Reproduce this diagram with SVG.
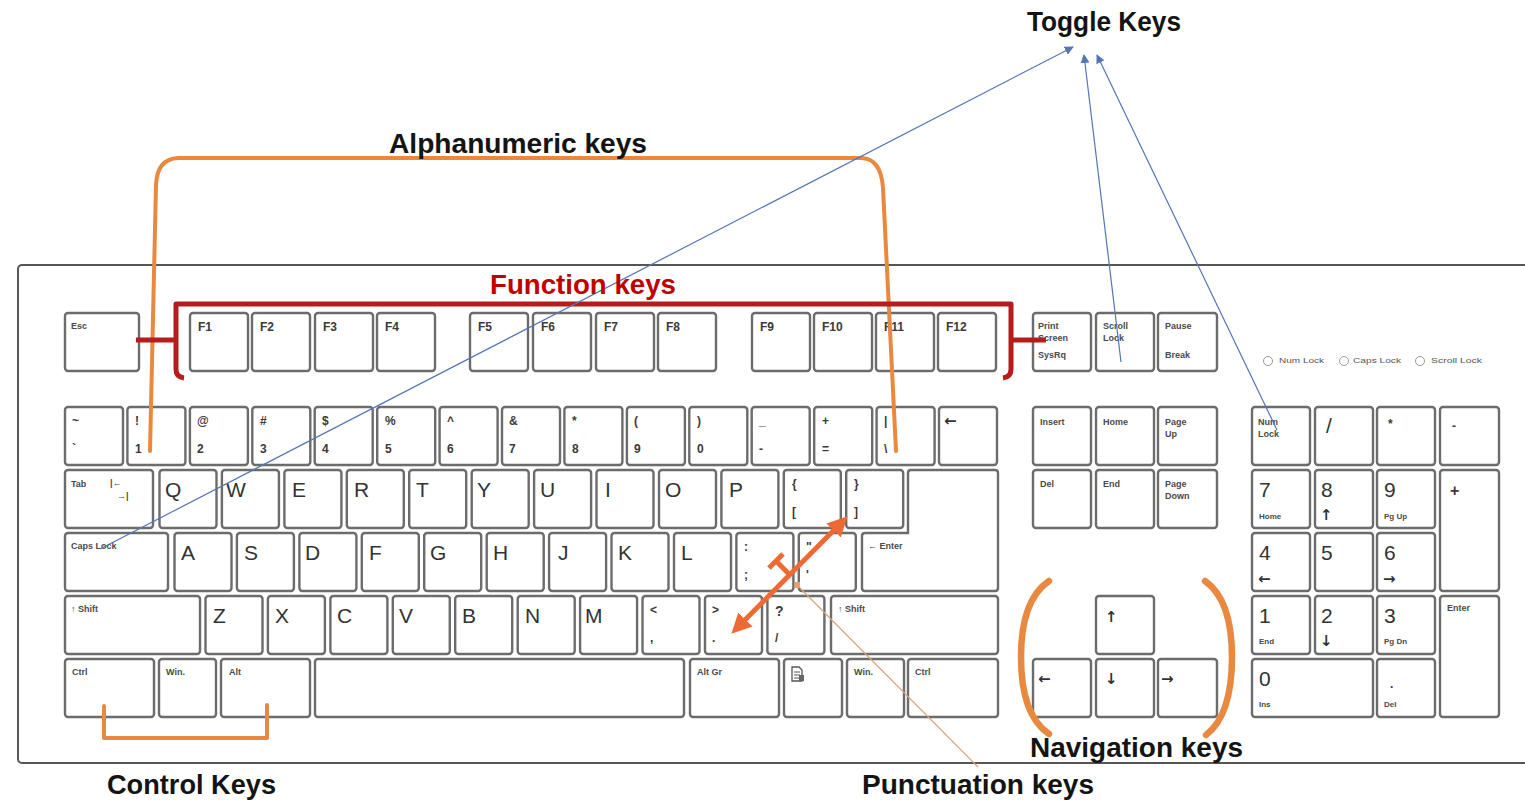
<svg xmlns="http://www.w3.org/2000/svg" width="1525" height="800" viewBox="0 0 1525 800">
<defs>
<style>
.k{fill:#fff;stroke:#6c6c6c;stroke-width:2.4}
.s{font-family:"Liberation Sans",Arial,sans-serif;font-size:9px;font-weight:bold;fill:#4a4a4a}
.m{font-family:"Liberation Sans",Arial,sans-serif;font-size:12px;font-weight:bold;fill:#3a3a3a}
.ar{font-family:"DejaVu Sans",sans-serif;font-size:15px;font-weight:bold;fill:#333}
.L{font-family:"Liberation Sans",Arial,sans-serif;font-size:21px;fill:#333}
.t{font-family:"Liberation Sans",Arial,sans-serif;font-size:27px;font-weight:bold;fill:#141414}
.ind{font-family:"Liberation Sans",Arial,sans-serif;font-size:7px;fill:#555}
.or{fill:none;stroke:#E8893F;stroke-width:4;stroke-linecap:round;stroke-linejoin:round}
.blue{fill:none;stroke:#5575B5;stroke-width:1.2}
</style>
<marker id="ab" viewBox="0 0 10 10" refX="9" refY="5" markerWidth="9" markerHeight="9" markerUnits="userSpaceOnUse" orient="auto"><path d="M0,0 L10,5 L0,10 z" fill="#5575B5"/></marker>
<marker id="ao" viewBox="0 0 10 10" refX="6" refY="5" markerWidth="4" markerHeight="4" orient="auto-start-reverse"><path d="M0,0 L10,5 L0,10 z" fill="#EE6A35"/></marker>
</defs>
<rect width="1525" height="800" fill="#fff"/>
<g id="keyboard-frame"><rect x="18" y="265" width="1530" height="498" rx="4" fill="#fff" stroke="#555" stroke-width="2"/></g>

<g id="function-row">
<g id="key-esc"><rect class="k" x="65" y="313" width="74" height="58" rx="3"/><text class="s" x="71" y="329">Esc</text></g>
<g id="key-f1"><rect class="k" x="190" y="313" width="58" height="58" rx="3"/><text class="m" x="198" y="331">F1</text></g>
<g id="key-f2"><rect class="k" x="252" y="313" width="58" height="58" rx="3"/><text class="m" x="260" y="331">F2</text></g>
<g id="key-f3"><rect class="k" x="315" y="313" width="58" height="58" rx="3"/><text class="m" x="323" y="331">F3</text></g>
<g id="key-f4"><rect class="k" x="377" y="313" width="58" height="58" rx="3"/><text class="m" x="385" y="331">F4</text></g>
<g id="key-f5"><rect class="k" x="470" y="313" width="58" height="58" rx="3"/><text class="m" x="478" y="331">F5</text></g>
<g id="key-f6"><rect class="k" x="533" y="313" width="58" height="58" rx="3"/><text class="m" x="541" y="331">F6</text></g>
<g id="key-f7"><rect class="k" x="596" y="313" width="58" height="58" rx="3"/><text class="m" x="604" y="331">F7</text></g>
<g id="key-f8"><rect class="k" x="658" y="313" width="58" height="58" rx="3"/><text class="m" x="666" y="331">F8</text></g>
<g id="key-f9"><rect class="k" x="752" y="313" width="58" height="58" rx="3"/><text class="m" x="760" y="331">F9</text></g>
<g id="key-f10"><rect class="k" x="814" y="313" width="58" height="58" rx="3"/><text class="m" x="822" y="331">F10</text></g>
<g id="key-f11"><rect class="k" x="876" y="313" width="58" height="58" rx="3"/><text class="m" x="884" y="331">F11</text></g>
<g id="key-f12"><rect class="k" x="938" y="313" width="58" height="58" rx="3"/><text class="m" x="946" y="331">F12</text></g>
<g id="key-prtsc"><rect class="k" x="1033" y="313" width="58" height="58" rx="3"/><text class="s" x="1038" y="329">Print</text><text class="s" x="1038" y="341">Screen</text><text class="s" x="1038" y="358">SysRq</text></g>
<g id="key-scroll"><rect class="k" x="1096" y="313" width="58" height="58" rx="3"/><text class="s" x="1103" y="329">Scroll</text><text class="s" x="1103" y="341">Lock</text></g>
<g id="key-pause"><rect class="k" x="1158" y="313" width="59" height="58" rx="3"/><text class="s" x="1165" y="329">Pause</text><text class="s" x="1165" y="358">Break</text></g>
</g>

<g id="indicators">
<circle cx="1268" cy="361" r="4.5" fill="none" stroke="#999" stroke-width="1"/><text class="ind" x="1279" y="363" textLength="45" lengthAdjust="spacingAndGlyphs">Num Lock</text>
<circle cx="1344" cy="361" r="4.5" fill="none" stroke="#999" stroke-width="1"/><text class="ind" x="1353" y="363" textLength="48" lengthAdjust="spacingAndGlyphs">Caps Lock</text>
<circle cx="1420" cy="361" r="4.5" fill="none" stroke="#999" stroke-width="1"/><text class="ind" x="1431" y="363" textLength="51" lengthAdjust="spacingAndGlyphs">Scroll Lock</text>
</g>

<g id="number-row">
<g id="key-tilde"><rect class="k" x="65" y="407" width="58" height="58" rx="3"/><text class="m" x="72" y="425">~</text><text class="m" x="72" y="453">`</text></g>
<g id="key-1"><rect class="k" x="127.4" y="407" width="58" height="58" rx="3"/><text class="m" x="135" y="425">!</text><text class="m" x="135" y="453">1</text></g>
<g id="key-2"><rect class="k" x="189.9" y="407" width="58" height="58" rx="3"/><text class="m" x="197" y="425">@</text><text class="m" x="197" y="453">2</text></g>
<g id="key-3"><rect class="k" x="252.3" y="407" width="58" height="58" rx="3"/><text class="m" x="260" y="425">#</text><text class="m" x="260" y="453">3</text></g>
<g id="key-4"><rect class="k" x="314.7" y="407" width="58" height="58" rx="3"/><text class="m" x="322" y="425">$</text><text class="m" x="322" y="453">4</text></g>
<g id="key-5"><rect class="k" x="377.2" y="407" width="58" height="58" rx="3"/><text class="m" x="385" y="425">%</text><text class="m" x="385" y="453">5</text></g>
<g id="key-6"><rect class="k" x="439.6" y="407" width="58" height="58" rx="3"/><text class="m" x="447" y="425">^</text><text class="m" x="447" y="453">6</text></g>
<g id="key-7"><rect class="k" x="502" y="407" width="58" height="58" rx="3"/><text class="m" x="509" y="425">&amp;</text><text class="m" x="509" y="453">7</text></g>
<g id="key-8"><rect class="k" x="564.4" y="407" width="58" height="58" rx="3"/><text class="m" x="572" y="425">*</text><text class="m" x="572" y="453">8</text></g>
<g id="key-9"><rect class="k" x="626.9" y="407" width="58" height="58" rx="3"/><text class="m" x="634" y="425">(</text><text class="m" x="634" y="453">9</text></g>
<g id="key-0"><rect class="k" x="689.3" y="407" width="58" height="58" rx="3"/><text class="m" x="697" y="425">)</text><text class="m" x="697" y="453">0</text></g>
<g id="key-minus"><rect class="k" x="751.7" y="407" width="58" height="58" rx="3"/><text class="m" x="759" y="425">_</text><text class="m" x="759" y="453">-</text></g>
<g id="key-equal"><rect class="k" x="814.2" y="407" width="58" height="58" rx="3"/><text class="m" x="822" y="425">+</text><text class="m" x="822" y="453">=</text></g>
<g id="key-backslash"><rect class="k" x="876.6" y="407" width="58" height="58" rx="3"/><text class="m" x="884" y="425">|</text><text class="m" x="884" y="453">\</text></g>
<g id="key-backspace"><rect class="k" x="939" y="407" width="58" height="58" rx="3"/><text class="ar" x="944" y="426">←</text></g>
</g>

<g id="qwerty-row">
<g id="key-tab"><rect class="k" x="65" y="470" width="88" height="58" rx="3"/><text class="s" x="71" y="487">Tab</text><text class="s" x="110" y="486">|←</text><text class="s" x="117" y="499">→|</text></g>
<g id="key-q"><rect class="k" x="159.5" y="470" width="57" height="58" rx="3"/><text class="L" x="165" y="497">Q</text></g>
<g id="key-w"><rect class="k" x="221.9" y="470" width="57" height="58" rx="3"/><text class="L" x="226" y="497">W</text></g>
<g id="key-e"><rect class="k" x="284.4" y="470" width="57" height="58" rx="3"/><text class="L" x="292" y="497">E</text></g>
<g id="key-r"><rect class="k" x="346.8" y="470" width="57" height="58" rx="3"/><text class="L" x="354" y="497">R</text></g>
<g id="key-t"><rect class="k" x="409.2" y="470" width="57" height="58" rx="3"/><text class="L" x="416" y="497">T</text></g>
<g id="key-y"><rect class="k" x="471.7" y="470" width="57" height="58" rx="3"/><text class="L" x="477" y="497">Y</text></g>
<g id="key-u"><rect class="k" x="534.1" y="470" width="57" height="58" rx="3"/><text class="L" x="540" y="497">U</text></g>
<g id="key-i"><rect class="k" x="596.5" y="470" width="57" height="58" rx="3"/><text class="L" x="605" y="497">I</text></g>
<g id="key-o"><rect class="k" x="659" y="470" width="57" height="58" rx="3"/><text class="L" x="665" y="497">O</text></g>
<g id="key-p"><rect class="k" x="721.4" y="470" width="57" height="58" rx="3"/><text class="L" x="729" y="497">P</text></g>
<g id="key-lbracket"><rect class="k" x="783.8" y="470" width="57" height="58" rx="3"/><text class="m" x="792" y="488">{</text><text class="m" x="792" y="516">[</text></g>
<g id="key-rbracket"><rect class="k" x="846.2" y="470" width="57" height="58" rx="3"/><text class="m" x="854" y="488">}</text><text class="m" x="854" y="516">]</text></g>
<g id="key-enter"><path class="k" d="M911,470 H995 Q998,470 998,473 V588 Q998,591 995,591 H865 Q862,591 862,588 V536 Q862,533 865,533 H908 V473 Q908,470 911,470 Z"/><text class="s" x="868" y="549">← Enter</text></g>
</g>

<g id="home-row">
<g id="key-caps"><rect class="k" x="65" y="533" width="103" height="58" rx="3"/><text class="s" x="71" y="549">Caps Lock</text></g>
<g id="key-a"><rect class="k" x="174.5" y="533" width="57" height="58" rx="3"/><text class="L" x="181" y="560">A</text></g>
<g id="key-s"><rect class="k" x="236.9" y="533" width="57" height="58" rx="3"/><text class="L" x="244" y="560">S</text></g>
<g id="key-d"><rect class="k" x="299.4" y="533" width="57" height="58" rx="3"/><text class="L" x="305" y="560">D</text></g>
<g id="key-f"><rect class="k" x="361.8" y="533" width="57" height="58" rx="3"/><text class="L" x="369" y="560">F</text></g>
<g id="key-g"><rect class="k" x="424.2" y="533" width="57" height="58" rx="3"/><text class="L" x="430" y="560">G</text></g>
<g id="key-h"><rect class="k" x="486.7" y="533" width="57" height="58" rx="3"/><text class="L" x="493" y="560">H</text></g>
<g id="key-j"><rect class="k" x="549.1" y="533" width="57" height="58" rx="3"/><text class="L" x="558" y="560">J</text></g>
<g id="key-k"><rect class="k" x="611.5" y="533" width="57" height="58" rx="3"/><text class="L" x="618" y="560">K</text></g>
<g id="key-l"><rect class="k" x="674" y="533" width="57" height="58" rx="3"/><text class="L" x="681" y="560">L</text></g>
<g id="key-semicolon"><rect class="k" x="736.4" y="533" width="57" height="58" rx="3"/><text class="m" x="744" y="551">:</text><text class="m" x="744" y="579">;</text></g>
<g id="key-quote"><rect class="k" x="798.8" y="533" width="57" height="58" rx="3"/><text class="m" x="806" y="551">"</text><text class="m" x="806" y="579">'</text></g>
</g>

<g id="shift-row">
<g id="key-lshift"><rect class="k" x="65" y="596" width="135" height="58" rx="3"/><text class="s" x="71" y="612">↑ Shift</text></g>
<g id="key-z"><rect class="k" x="205.5" y="596" width="57" height="58" rx="3"/><text class="L" x="213" y="623">Z</text></g>
<g id="key-x"><rect class="k" x="267.9" y="596" width="57" height="58" rx="3"/><text class="L" x="275" y="623">X</text></g>
<g id="key-c"><rect class="k" x="330.4" y="596" width="57" height="58" rx="3"/><text class="L" x="337" y="623">C</text></g>
<g id="key-v"><rect class="k" x="392.8" y="596" width="57" height="58" rx="3"/><text class="L" x="399" y="623">V</text></g>
<g id="key-b"><rect class="k" x="455.2" y="596" width="57" height="58" rx="3"/><text class="L" x="462" y="623">B</text></g>
<g id="key-n"><rect class="k" x="517.7" y="596" width="57" height="58" rx="3"/><text class="L" x="525" y="623">N</text></g>
<g id="key-m"><rect class="k" x="580.1" y="596" width="57" height="58" rx="3"/><text class="L" x="585" y="623">M</text></g>
<g id="key-comma"><rect class="k" x="642.5" y="596" width="57" height="58" rx="3"/><text class="m" x="650" y="614">&lt;</text><text class="m" x="650" y="642">,</text></g>
<g id="key-period"><rect class="k" x="705" y="596" width="57" height="58" rx="3"/><text class="m" x="712" y="614">&gt;</text><text class="m" x="712" y="642">.</text></g>
<g id="key-slash"><rect class="k" x="767.4" y="596" width="57" height="58" rx="3"/><text class="m" x="775" y="616" style="font-size:14px">?</text><text class="m" x="775" y="642">/</text></g>
<g id="key-rshift"><rect class="k" x="831" y="596" width="167" height="58" rx="3"/><text class="s" x="838" y="612">↑ Shift</text></g>
</g>

<g id="bottom-row">
<g id="key-lctrl"><rect class="k" x="65" y="659" width="89" height="58" rx="3"/><text class="s" x="72" y="675">Ctrl</text></g>
<g id="key-lwin"><rect class="k" x="159" y="659" width="57" height="58" rx="3"/><text class="s" x="166" y="675">Win.</text></g>
<g id="key-lalt"><rect class="k" x="221" y="659" width="89" height="58" rx="3"/><text class="s" x="229" y="675">Alt</text></g>
<g id="key-space"><rect class="k" x="315" y="659" width="369" height="58" rx="3"/></g>
<g id="key-altgr"><rect class="k" x="690" y="659" width="89" height="58" rx="3"/><text class="s" x="697" y="675">Alt Gr</text></g>
<g id="key-menu"><rect class="k" x="784" y="659" width="58" height="58" rx="3"/><path d="M792,667 h7 l3,3 v11 h-10 z" fill="#fff" stroke="#555" stroke-width="1.3"/><path d="M794,672 h6 M794,675 h6 M794,678 h6" stroke="#555" stroke-width="1"/><rect x="799" y="675" width="5" height="6" fill="#666"/></g>
<g id="key-rwin"><rect class="k" x="847" y="659" width="57" height="58" rx="3"/><text class="s" x="854" y="675">Win.</text></g>
<g id="key-rctrl"><rect class="k" x="908" y="659" width="90" height="58" rx="3"/><text class="s" x="915" y="675">Ctrl</text></g>
</g>

<g id="nav-cluster">
<g id="key-insert"><rect class="k" x="1033" y="407" width="58" height="58" rx="3"/><text class="s" x="1040" y="425">Insert</text></g>
<g id="key-home"><rect class="k" x="1096" y="407" width="58" height="58" rx="3"/><text class="s" x="1103" y="425">Home</text></g>
<g id="key-pgup"><rect class="k" x="1158" y="407" width="59" height="58" rx="3"/><text class="s" x="1165" y="425">Page</text><text class="s" x="1165" y="437">Up</text></g>
<g id="key-del"><rect class="k" x="1033" y="470" width="58" height="58" rx="3"/><text class="s" x="1040" y="487">Del</text></g>
<g id="key-end"><rect class="k" x="1096" y="470" width="58" height="58" rx="3"/><text class="s" x="1103" y="487">End</text></g>
<g id="key-pgdn"><rect class="k" x="1158" y="470" width="59" height="58" rx="3"/><text class="s" x="1165" y="487">Page</text><text class="s" x="1165" y="499">Down</text></g>
<g id="key-up"><rect class="k" x="1096" y="596" width="58" height="58" rx="3"/><text class="ar" x="1105" y="622">↑</text></g>
<g id="key-left"><rect class="k" x="1033" y="659" width="58" height="58" rx="3"/><text class="ar" x="1038" y="684">←</text></g>
<g id="key-down"><rect class="k" x="1096" y="659" width="58" height="58" rx="3"/><text class="ar" x="1105" y="684">↓</text></g>
<g id="key-right"><rect class="k" x="1158" y="659" width="59" height="58" rx="3"/><text class="ar" x="1161" y="684">→</text></g>
</g>

<g id="numpad">
<g id="key-numlock"><rect class="k" x="1252" y="407" width="58" height="58" rx="3"/><text class="s" x="1258" y="425">Num</text><text class="s" x="1258" y="437">Lock</text></g>
<g id="key-ndiv"><rect class="k" x="1315" y="407" width="58" height="58" rx="3"/><text class="L" x="1326" y="433">/</text></g>
<g id="key-nmul"><rect class="k" x="1377" y="407" width="58" height="58" rx="3"/><text class="m" x="1388" y="428">*</text></g>
<g id="key-nsub"><rect class="k" x="1440" y="407" width="59" height="58" rx="3"/><text class="m" x="1452" y="430">-</text></g>
<g id="key-n7"><rect class="k" x="1252" y="470" width="58" height="58" rx="3"/><text class="L" x="1259" y="497">7</text><text class="s" x="1259" y="519" style="font-size:8px">Home</text></g>
<g id="key-n8"><rect class="k" x="1315" y="470" width="58" height="58" rx="3"/><text class="L" x="1321" y="497">8</text><text class="ar" x="1320" y="520">↑</text></g>
<g id="key-n9"><rect class="k" x="1377" y="470" width="58" height="58" rx="3"/><text class="L" x="1384" y="497">9</text><text class="s" x="1384" y="519" style="font-size:8px">Pg Up</text></g>
<g id="key-nadd"><rect class="k" x="1440" y="470" width="59" height="121" rx="3"/><text class="m" x="1450" y="496" style="font-size:16px">+</text></g>
<g id="key-n4"><rect class="k" x="1252" y="533" width="58" height="58" rx="3"/><text class="L" x="1259" y="560">4</text><text class="ar" x="1258" y="584">←</text></g>
<g id="key-n5"><rect class="k" x="1315" y="533" width="58" height="58" rx="3"/><text class="L" x="1321" y="560">5</text></g>
<g id="key-n6"><rect class="k" x="1377" y="533" width="58" height="58" rx="3"/><text class="L" x="1384" y="560">6</text><text class="ar" x="1383" y="584">→</text></g>
<g id="key-n1"><rect class="k" x="1252" y="596" width="58" height="58" rx="3"/><text class="L" x="1259" y="623">1</text><text class="s" x="1259" y="644" style="font-size:8px">End</text></g>
<g id="key-n2"><rect class="k" x="1315" y="596" width="58" height="58" rx="3"/><text class="L" x="1321" y="623">2</text><text class="ar" x="1320" y="646">↓</text></g>
<g id="key-n3"><rect class="k" x="1377" y="596" width="58" height="58" rx="3"/><text class="L" x="1384" y="623">3</text><text class="s" x="1384" y="644" style="font-size:8px">Pg Dn</text></g>
<g id="key-nenter"><rect class="k" x="1440" y="596" width="59" height="121" rx="3"/><text class="s" x="1447" y="611">Enter</text></g>
<g id="key-n0"><rect class="k" x="1252" y="659" width="121" height="58" rx="3"/><text class="L" x="1259" y="686">0</text><text class="s" x="1259" y="707" style="font-size:8px">Ins</text></g>
<g id="key-ndot"><rect class="k" x="1377" y="659" width="58" height="58" rx="3"/><text class="m" x="1390" y="688">.</text><text class="s" x="1384" y="707" style="font-size:8px">Del</text></g>
</g>

<g id="connectors">
<path id="bracket-alphanumeric" class="or" d="M150,451 L156,185 Q157,159 178,158 L862,158 Q881,159 883,188 L896,451"/>
<path id="bracket-function" d="M184,378 Q176,377 176,369 V304 H1011 V369 Q1011,377 1003,378 M136,340 H176 M1011,340 H1046" fill="none" stroke="#B71C1C" stroke-width="5" stroke-linejoin="round"/>
<path id="bracket-control" class="or" d="M104,706 V738 H267 V705"/>
<path id="paren-nav-left" d="M1049,581 Q1021,600 1021,657 Q1021,715 1049,734" fill="none" stroke="#E8893F" stroke-width="6.5" stroke-linecap="round"/>
<path id="paren-nav-right" d="M1205,581 Q1232,600 1232,657 Q1232,715 1206,735" fill="none" stroke="#E8893F" stroke-width="6.5" stroke-linecap="round"/>
<line id="punct-pointer" x1="797" y1="585" x2="978" y2="767" stroke="#D9A47C" stroke-width="1.2"/>
<rect x="794" y="582" width="6" height="6" fill="#E9A065"/>
<line id="punct-arrow" x1="737" y1="628" x2="842" y2="522" stroke="#EE6A35" stroke-width="5" marker-start="url(#ao)" marker-end="url(#ao)"/>
<path d="M790,575 L776,561 M769,568 L783,554" stroke="#EE6A35" stroke-width="5" fill="none"/>
<line id="toggle-caps" class="blue" x1="100" y1="549" x2="1073" y2="47" marker-end="url(#ab)"/>
<line id="toggle-scroll" class="blue" x1="1121" y1="362" x2="1084" y2="55" marker-end="url(#ab)"/>
<line id="toggle-num" class="blue" x1="1277" y1="430" x2="1097" y2="55" marker-end="url(#ab)"/>
</g>

<g id="labels">
<g id="label-toggle"><text class="t" x="1027" y="31" textLength="154" lengthAdjust="spacingAndGlyphs">Toggle Keys</text></g>
<g id="label-alphanumeric"><text class="t" x="389" y="153" textLength="258" lengthAdjust="spacingAndGlyphs">Alphanumeric keys</text></g>
<g id="label-function"><text class="t" x="490" y="294" textLength="186" lengthAdjust="spacingAndGlyphs" style="fill:#C00000">Function keys</text></g>
<g id="label-navigation"><text class="t" x="1030" y="757" textLength="213" lengthAdjust="spacingAndGlyphs">Navigation keys</text></g>
<g id="label-control"><text class="t" x="107" y="794" textLength="169" lengthAdjust="spacingAndGlyphs">Control Keys</text></g>
<g id="label-punctuation"><text class="t" x="862" y="794" textLength="232" lengthAdjust="spacingAndGlyphs">Punctuation keys</text></g>
</g>
</svg>
